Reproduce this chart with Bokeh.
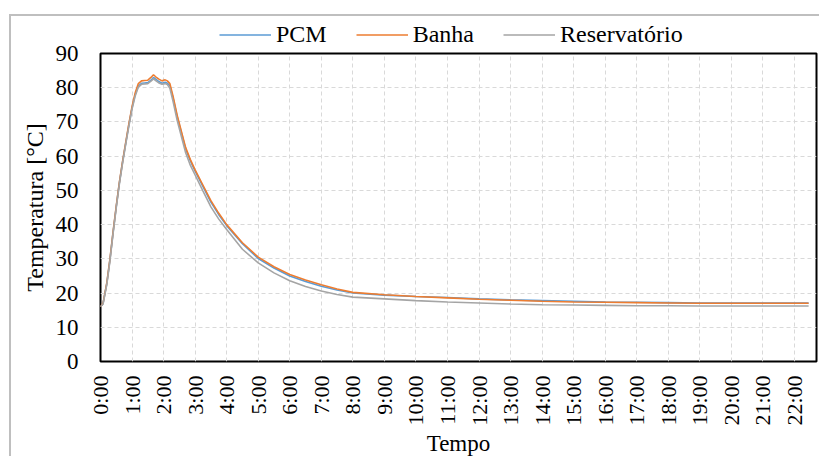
import math
from bokeh.plotting import figure
from bokeh.layouts import column
from bokeh.models import Range1d, FixedTicker, Legend, LegendItem
from bokeh.embed import file_html
from bokeh.resources import INLINE

# time in hours
t = [0.0, 0.08, 0.2, 0.3, 0.4, 0.5, 0.6, 0.7, 0.8, 0.9, 1.0, 1.1, 1.2, 1.3, 1.4, 1.5,
     1.6, 1.68, 1.75, 1.85, 1.95, 2.05, 2.12, 2.2, 2.3, 2.43, 2.6, 2.7, 2.85, 3.0,
     3.25, 3.5, 3.75, 4.0, 4.5, 5.0, 5.5, 6.0, 6.5, 7.0, 7.5, 8.0, 9.0, 10.0, 11.0,
     12.0, 13.0, 14.0, 15.0, 16.0, 17.0, 18.0, 19.0, 20.0, 21.0, 22.0, 22.45]

banha = [16.0, 17.0, 23.0, 30.0, 38.0, 45.5, 52.5, 58.5, 64.0, 69.5, 74.5, 78.5, 81.2, 82.0,
         82.1, 82.2, 83.0, 83.8, 83.2, 82.5, 82.0, 82.3, 82.0, 81.2, 77.5, 72.0, 66.0, 62.5,
         59.0, 56.0, 51.5, 47.0, 43.3, 40.0, 34.7, 30.5, 27.7, 25.4, 23.8, 22.4, 21.2, 20.2,
         19.5, 19.0, 18.6, 18.2, 17.9, 17.6, 17.4, 17.3, 17.2, 17.1, 17.0, 17.0, 17.0, 17.0, 17.0]

pcm = [16.0, 16.9, 22.8, 29.8, 37.8, 45.3, 52.3, 58.3, 63.8, 69.2, 74.1, 78.0, 80.5, 81.3,
       81.4, 81.5, 82.2, 83.0, 82.5, 81.8, 81.3, 81.6, 81.3, 80.6, 77.0, 71.6, 65.6, 62.1,
       58.6, 55.6, 51.1, 46.6, 42.9, 39.7, 34.4, 30.1, 27.3, 25.0, 23.4, 22.0, 20.9, 20.0,
       19.4, 19.0, 18.7, 18.3, 18.0, 17.8, 17.6, 17.4, 17.3, 17.2, 17.1, 17.1, 17.1, 17.1, 17.1]

reservatorio = [16.0, 16.8, 22.5, 29.5, 37.5, 45.0, 52.0, 58.0, 63.5, 68.8, 73.8, 77.6, 80.2, 81.0,
                81.1, 81.2, 81.9, 82.6, 82.1, 81.4, 81.0, 81.2, 80.9, 79.8, 76.0, 70.5, 64.5, 61.0,
                57.3, 54.5, 49.8, 45.2, 41.6, 38.6, 32.8, 28.8, 25.9, 23.6, 21.9, 20.6, 19.6, 18.8,
                18.3, 17.8, 17.4, 17.1, 16.8, 16.6, 16.5, 16.4, 16.3, 16.3, 16.2, 16.2, 16.2, 16.2, 16.2]

series_names = ["PCM", "Banha", "Reservatório"]
series_colors = ["#5B9BD5", "#ED7D31", "#A5A5A5"]

hour_ticks = list(range(0, 23))
hour_labels = [f"{h}:00" for h in hour_ticks]
y_ticks = list(range(0, 100, 10))

FONT = "Liberation Serif"
series = [pcm, banha, reservatorio]

# ---- legend strip: its own small figure, so the plot frame does not clip it ----
# (its frame is aligned with the main chart's frame by the column layout)
leg = figure(width=810, height=36, output_backend="svg", toolbar_location=None,
             x_range=Range1d(0, 1), y_range=Range1d(1000, 1001),
             x_axis_location=None, y_axis_location=None,
             min_border_left=0, min_border_right=0, min_border_top=0, min_border_bottom=0)
leg.margin = (16, 0, 0, 11)
leg.outline_line_color = None
leg.background_fill_alpha = 0
leg.border_fill_alpha = 0
leg.grid.visible = False
leg_items = []
for name, vals, col in zip(series_names, series, series_colors):
    r = leg.line(t, vals, line_color=col, line_width=1.6)   # outside the strip's y range: legend glyph only
    leg_items.append(LegendItem(label=name, renderers=[r]))
legend = Legend(items=leg_items, orientation="horizontal", location="left",
                glyph_width=52, glyph_height=20, label_standoff=5, spacing=29,
                padding=0, margin=119, border_line_color=None, background_fill_alpha=0,
                label_text_font=FONT, label_text_font_size="24px", label_text_color="black")
leg.add_layout(legend, "center")

# ---- main chart (overlaps the legend strip; its border area is transparent) ----
p = figure(width=810, height=442, output_backend="svg", toolbar_location=None,
           x_range=Range1d(0, 22.7), y_range=Range1d(0, 90),
           min_border_left=89, min_border_right=5, min_border_top=37, min_border_bottom=96)
p.margin = (-36, 0, 0, 11)
p.styles = {"box-shadow": "-2px -2px 0 0 #BFBFBF"}

p.outline_line_color = "black"
p.outline_line_width = 2
p.background_fill_color = "white"
p.border_fill_alpha = 0

p.xaxis.ticker = FixedTicker(ticks=hour_ticks)
p.xaxis.major_label_overrides = {h: lab for h, lab in zip(hour_ticks, hour_labels)}
p.xaxis.major_label_orientation = math.pi / 2
p.yaxis.ticker = FixedTicker(ticks=y_ticks)
for ax in (p.xaxis, p.yaxis):
    ax.axis_line_color = None
    ax.major_tick_line_color = None
    ax.minor_tick_line_color = None
    ax.major_label_text_font = FONT
    ax.major_label_text_color = "black"
    ax.axis_label_text_font = FONT
    ax.axis_label_text_font_style = "normal"
    ax.axis_label_text_color = "black"
p.xaxis.major_label_text_font_size = "22px"
p.yaxis.major_label_text_font_size = "23px"
p.xaxis.major_label_standoff = 8
p.yaxis.major_label_standoff = 16
p.yaxis.axis_label = "Temperatura [°C]"
p.yaxis.axis_label_text_font_size = "24px"
p.yaxis.axis_label_standoff = 5
p.xaxis.axis_label = "Tempo"
p.xaxis.axis_label_text_font_size = "23px"
p.xaxis.axis_label_standoff = 2

p.xgrid.grid_line_color = "#D9D9D9"
p.ygrid.grid_line_color = "#D9D9D9"
p.xgrid.grid_line_dash = "4 3"
p.ygrid.grid_line_dash = "4 3"

for vals, col in zip(series, series_colors):
    p.line(t, vals, line_color=col, line_width=1.6)

layout = column(leg, p, spacing=0)
open("out.html", "w").write(file_html(layout, INLINE))
